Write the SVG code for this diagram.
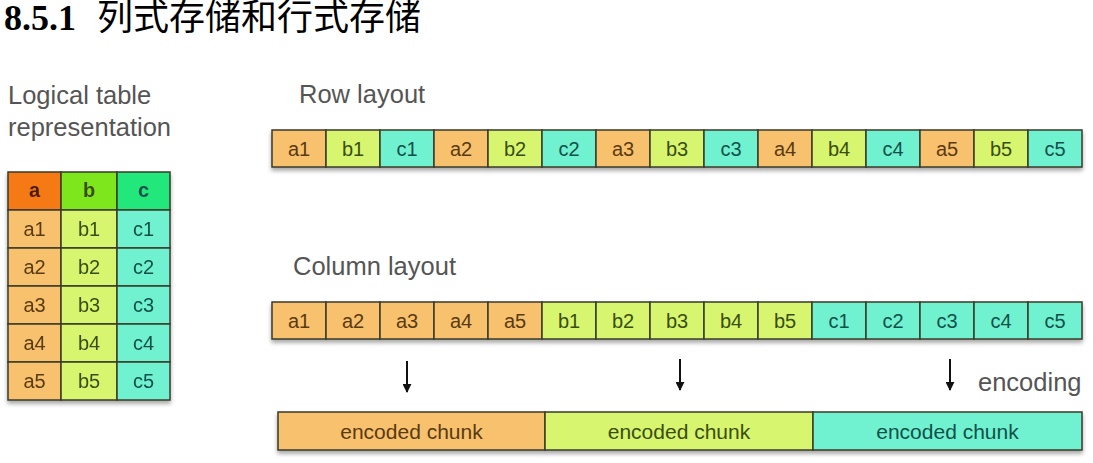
<svg xmlns="http://www.w3.org/2000/svg" width="1093" height="463" viewBox="0 0 1093 463">
<style>
.title{font-family:"Liberation Serif","Noto Sans CJK SC",serif;font-size:36px;fill:#000}
.lbl{font-family:"Liberation Sans",Arial,sans-serif;font-size:25.5px;fill:#555}
.ct{font-family:"Liberation Sans",Arial,sans-serif;font-size:20px;text-anchor:middle}
.ec{font-size:21px}
.cell{stroke:#3a3a2a;stroke-width:1.5}
.oa{fill:#F8C16E}.gb{fill:#D7F56E}.tc{fill:#6FF2D0}
.ha{fill:#F57A12}.hb{fill:#7DE61C}.hc{fill:#22E87C}
.ta{fill:#5a3a10}.tb{fill:#3a4e12}.tt{fill:#10504a}
.arr{stroke:#111;stroke-width:2}
</style>
<defs>
<filter id="sh" x="-5%" y="-20%" width="110%" height="150%">
<feDropShadow dx="0" dy="3" stdDeviation="2" flood-color="#000" flood-opacity="0.35"/>
</filter>
<marker id="ah" viewBox="0 0 10 10" refX="9" refY="5" markerWidth="4.5" markerHeight="4.5" orient="auto">
<path d="M0,0 L10,5 L0,10 z" fill="#111"/>
</marker>
</defs>
<rect width="1093" height="463" fill="#fff"/>
<text x="4" y="30" class="title"><tspan font-weight="bold">8.5.1</tspan><tspan x="97">列式存储和行式存储</tspan></text>

<g id="table-label">
<text x="8" y="104" class="lbl">Logical table</text>
<text x="8" y="136" class="lbl">representation</text>
</g>

<g id="logical-table" filter="url(#sh)">
<rect x="8" y="172" width="53" height="38" class="cell ha"/>
<rect x="61" y="172" width="56" height="38" class="cell hb"/>
<rect x="117" y="172" width="53" height="38" class="cell hc"/>
<text x="34.5" y="197" class="ct" font-weight="bold" fill="#4a1a00">a</text>
<text x="89" y="197" class="ct tb" font-weight="bold">b</text>
<text x="143.5" y="197" class="ct tt" font-weight="bold">c</text>
<rect x="8" y="210" width="53" height="38" class="cell oa"/><rect x="61" y="210" width="56" height="38" class="cell gb"/><rect x="117" y="210" width="53" height="38" class="cell tc"/>
<rect x="8" y="248" width="53" height="38" class="cell oa"/><rect x="61" y="248" width="56" height="38" class="cell gb"/><rect x="117" y="248" width="53" height="38" class="cell tc"/>
<rect x="8" y="286" width="53" height="38" class="cell oa"/><rect x="61" y="286" width="56" height="38" class="cell gb"/><rect x="117" y="286" width="53" height="38" class="cell tc"/>
<rect x="8" y="324" width="53" height="38" class="cell oa"/><rect x="61" y="324" width="56" height="38" class="cell gb"/><rect x="117" y="324" width="53" height="38" class="cell tc"/>
<rect x="8" y="362" width="53" height="38" class="cell oa"/><rect x="61" y="362" width="56" height="38" class="cell gb"/><rect x="117" y="362" width="53" height="38" class="cell tc"/>
<text x="34.5" y="236" class="ct ta">a1</text><text x="89" y="236" class="ct tb">b1</text><text x="143.5" y="236" class="ct tt">c1</text>
<text x="34.5" y="274" class="ct ta">a2</text><text x="89" y="274" class="ct tb">b2</text><text x="143.5" y="274" class="ct tt">c2</text>
<text x="34.5" y="312" class="ct ta">a3</text><text x="89" y="312" class="ct tb">b3</text><text x="143.5" y="312" class="ct tt">c3</text>
<text x="34.5" y="350" class="ct ta">a4</text><text x="89" y="350" class="ct tb">b4</text><text x="143.5" y="350" class="ct tt">c4</text>
<text x="34.5" y="388" class="ct ta">a5</text><text x="89" y="388" class="ct tb">b5</text><text x="143.5" y="388" class="ct tt">c5</text>
</g>

<g id="row-layout">
<text x="299" y="103" class="lbl">Row layout</text>
<g filter="url(#sh)">
<rect x="272" y="130" width="54" height="37" class="cell oa"/>
<rect x="326" y="130" width="54" height="37" class="cell gb"/>
<rect x="380" y="130" width="54" height="37" class="cell tc"/>
<rect x="434" y="130" width="54" height="37" class="cell oa"/>
<rect x="488" y="130" width="54" height="37" class="cell gb"/>
<rect x="542" y="130" width="54" height="37" class="cell tc"/>
<rect x="596" y="130" width="54" height="37" class="cell oa"/>
<rect x="650" y="130" width="54" height="37" class="cell gb"/>
<rect x="704" y="130" width="54" height="37" class="cell tc"/>
<rect x="758" y="130" width="54" height="37" class="cell oa"/>
<rect x="812" y="130" width="54" height="37" class="cell gb"/>
<rect x="866" y="130" width="54" height="37" class="cell tc"/>
<rect x="920" y="130" width="54" height="37" class="cell oa"/>
<rect x="974" y="130" width="54" height="37" class="cell gb"/>
<rect x="1028" y="130" width="54" height="37" class="cell tc"/>
</g>
<text x="299" y="156" class="ct ta">a1</text><text x="353" y="156" class="ct tb">b1</text><text x="407" y="156" class="ct tt">c1</text>
<text x="461" y="156" class="ct ta">a2</text><text x="515" y="156" class="ct tb">b2</text><text x="569" y="156" class="ct tt">c2</text>
<text x="623" y="156" class="ct ta">a3</text><text x="677" y="156" class="ct tb">b3</text><text x="731" y="156" class="ct tt">c3</text>
<text x="785" y="156" class="ct ta">a4</text><text x="839" y="156" class="ct tb">b4</text><text x="893" y="156" class="ct tt">c4</text>
<text x="947" y="156" class="ct ta">a5</text><text x="1001" y="156" class="ct tb">b5</text><text x="1055" y="156" class="ct tt">c5</text>
</g>

<g id="column-layout">
<text x="293" y="275" class="lbl">Column layout</text>
<g filter="url(#sh)">
<rect x="272" y="302" width="54" height="37" class="cell oa"/>
<rect x="326" y="302" width="54" height="37" class="cell oa"/>
<rect x="380" y="302" width="54" height="37" class="cell oa"/>
<rect x="434" y="302" width="54" height="37" class="cell oa"/>
<rect x="488" y="302" width="54" height="37" class="cell oa"/>
<rect x="542" y="302" width="54" height="37" class="cell gb"/>
<rect x="596" y="302" width="54" height="37" class="cell gb"/>
<rect x="650" y="302" width="54" height="37" class="cell gb"/>
<rect x="704" y="302" width="54" height="37" class="cell gb"/>
<rect x="758" y="302" width="54" height="37" class="cell gb"/>
<rect x="812" y="302" width="54" height="37" class="cell tc"/>
<rect x="866" y="302" width="54" height="37" class="cell tc"/>
<rect x="920" y="302" width="54" height="37" class="cell tc"/>
<rect x="974" y="302" width="54" height="37" class="cell tc"/>
<rect x="1028" y="302" width="54" height="37" class="cell tc"/>
</g>
<text x="299" y="328" class="ct ta">a1</text><text x="353" y="328" class="ct ta">a2</text><text x="407" y="328" class="ct ta">a3</text>
<text x="461" y="328" class="ct ta">a4</text><text x="515" y="328" class="ct ta">a5</text><text x="569" y="328" class="ct tb">b1</text>
<text x="623" y="328" class="ct tb">b2</text><text x="677" y="328" class="ct tb">b3</text><text x="731" y="328" class="ct tb">b4</text>
<text x="785" y="328" class="ct tb">b5</text><text x="839" y="328" class="ct tt">c1</text><text x="893" y="328" class="ct tt">c2</text>
<text x="947" y="328" class="ct tt">c3</text><text x="1001" y="328" class="ct tt">c4</text><text x="1055" y="328" class="ct tt">c5</text>
</g>

<g id="connectors">
<line x1="407" y1="361" x2="407" y2="392" class="arr" marker-end="url(#ah)"/>
<line x1="680" y1="359" x2="680" y2="390" class="arr" marker-end="url(#ah)"/>
<line x1="950" y1="359" x2="950" y2="390" class="arr" marker-end="url(#ah)"/>
</g>
<text x="978" y="391" class="lbl">encoding</text>

<g id="encoded-chunks">
<g filter="url(#sh)">
<rect x="278" y="412" width="267" height="38" class="cell oa"/>
<rect x="545" y="412" width="268" height="38" class="cell gb"/>
<rect x="813" y="412" width="269" height="38" class="cell tc"/>
</g>
<text x="411.5" y="439" class="ct ec ta">encoded chunk</text>
<text x="679" y="439" class="ct ec tb">encoded chunk</text>
<text x="947.5" y="439" class="ct ec tt">encoded chunk</text>
</g>
</svg>
